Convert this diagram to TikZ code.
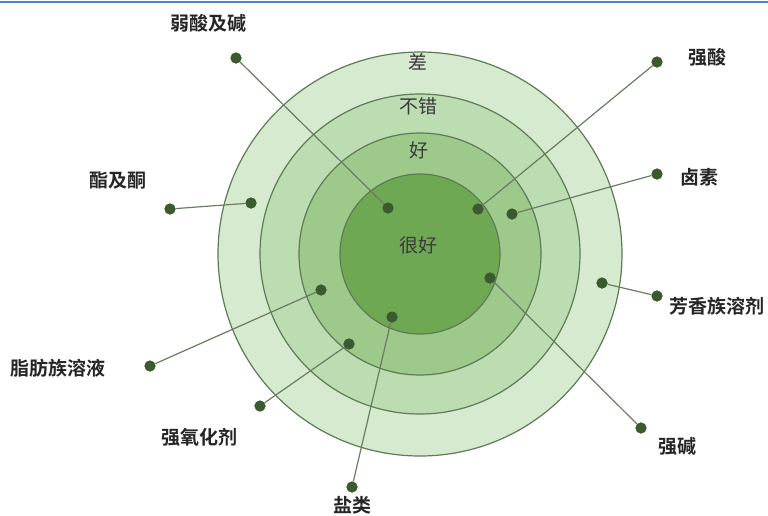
\documentclass[tikz,border=0pt]{standalone}
\usepackage{fontspec}
\newfontfamily\cjk{Noto Sans CJK SC}
\newfontfamily\cjkb{Noto Sans CJK SC Bold}
\definecolor{ringA}{HTML}{D6EAD0}
\definecolor{ringB}{HTML}{BCDCB2}
\definecolor{ringC}{HTML}{9DC98B}
\definecolor{ringD}{HTML}{6FA852}
\definecolor{ringline}{HTML}{5E7B55}
\definecolor{dotc}{HTML}{3B5A2F}
\definecolor{connc}{HTML}{6B7C64}
\definecolor{lvltext}{HTML}{3A3A3A}
\definecolor{topc}{HTML}{4A86D0}
\begin{document}
\begin{tikzpicture}[x=1pt,y=-1pt,
  ring/.style={draw=ringline, line width=1.2pt},
  dot/.style={circle, fill=dotc, inner sep=0pt, minimum size=11pt},
  lbl/.style={font=\cjkb\fontsize{19}{21}\selectfont, text=black!85, inner sep=0pt},
  lvl/.style={font=\cjk\fontsize{19}{21}\selectfont, text=lvltext, inner sep=0pt},
  conn/.style={draw=connc, line width=1.2pt}]
\useasboundingbox (0,0) rectangle (768,515);
\fill[topc] (0,0.5) rectangle (768,3);
% rings
\coordinate (c) at (420,254);
\filldraw[ring, fill=ringA] (c) circle (202);
\filldraw[ring, fill=ringB] (c) circle (160);
\filldraw[ring, fill=ringC] (c) circle (121);
\filldraw[ring, fill=ringD] (c) circle (80);
% level texts
\node[lvl] (l1) at (418,62) {差};
\node[lvl] (l2) at (418,106) {不错};
\node[lvl] (l3) at (419,150) {好};
\node[lvl] (l4) at (418,245) {很好};
% outer dots
\node[dot] (o1) at (236,58) {};
\node[dot] (o2) at (657,62) {};
\node[dot] (o3) at (657,174) {};
\node[dot] (o4) at (170,209) {};
\node[dot] (o5) at (657,296) {};
\node[dot] (o6) at (150,366) {};
\node[dot] (o7) at (260,406) {};
\node[dot] (o8) at (641,428) {};
\node[dot] (o9) at (352,487) {};
% inner dots
\node[dot] (i1) at (388,208) {};
\node[dot] (i2) at (478,209) {};
\node[dot] (i3) at (512,214) {};
\node[dot] (i4) at (251,203) {};
\node[dot] (i5) at (602,283) {};
\node[dot] (i6) at (321,290) {};
\node[dot] (i7) at (349,344) {};
\node[dot] (i8) at (490,278) {};
\node[dot] (i9) at (392,317) {};
% connectors
\foreach \k in {1,...,9} {\draw[conn] (o\k) -- (i\k);}
\foreach \k in {1,...,9} {\node[dot] at (o\k) {}; \node[dot] at (i\k) {};}
% labels
\node[lbl] (t1) at (208,23) {弱酸及碱};
\node[lbl] (t2) at (707,57) {强酸};
\node[lbl] (t3) at (699,177) {卤素};
\node[lbl] (t4) at (118,180) {酯及酮};
\node[lbl] (t5) at (717,306) {芳香族溶剂};
\node[lbl] (t6) at (58,368) {脂肪族溶液};
\node[lbl] (t7) at (199,437) {强氧化剂};
\node[lbl] (t8) at (677,446) {强碱};
\node[lbl] (t9) at (352,505) {盐类};
\end{tikzpicture}
\end{document}
